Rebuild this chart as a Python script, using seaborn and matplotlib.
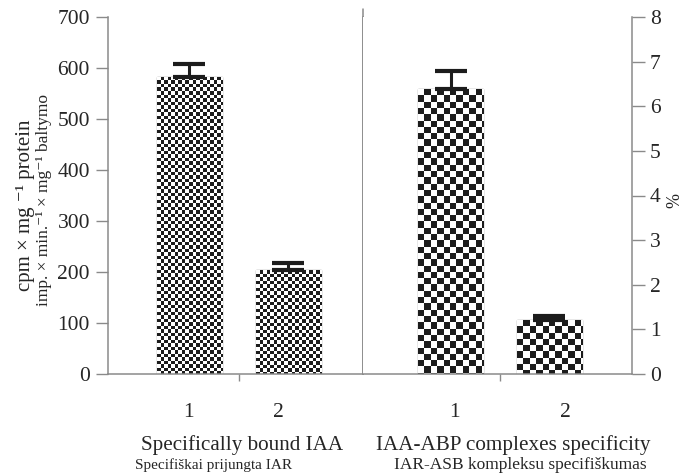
import numpy as np
import matplotlib
matplotlib.use('Agg')
import matplotlib.pyplot as plt
from matplotlib.colors import ListedColormap
import seaborn as sns

sns.set_style('ticks')
plt.rcParams['font.family'] = ['Liberation Serif', 'DejaVu Serif']

# data
bar_labels = ['1', '2']
bound_vals = [582, 203]        # cpm x mg-1 protein
bound_err = [25, 14]
specif_vals = [6.38, 1.21]     # %
specif_err = [0.40, 0.08]

GREY = '#8a8a8a'


def checker_fill(ax, bar, cell_px, dark='#1c1c1c'):
    """ Fill a bar patch with a black/white checkerboard clipped to it. """
    x0, y0 = bar.get_x(), bar.get_y()
    w, h = bar.get_width(), bar.get_height()
    p0 = ax.transData.transform((x0, y0))
    p1 = ax.transData.transform((x0 + w, y0 + h))
    wpx, hpx = p1 - p0
    nx = int(np.ceil(wpx / cell_px))
    ny = int(np.ceil(hpx / cell_px))
    board = np.add.outer(np.arange(ny), np.arange(nx)) % 2
    ext_w = nx * cell_px / wpx * w
    ext_h = ny * cell_px / hpx * h
    im = ax.imshow(board, cmap=ListedColormap(['white', dark]),
                   extent=(x0, x0 + ext_w, y0 + h - ext_h, y0 + h),
                   origin='upper', interpolation='nearest', aspect='auto',
                   zorder=2)
    im.set_clip_path(bar)


def draw_panel(ax, vals, errs, ylim, xlim, label_x, cell_px):
    sns.barplot(x=bar_labels, y=vals, ax=ax, width=0.66, color='white',
                edgecolor=GREY, linewidth=1.0, zorder=1)
    ax.set_xlim(*xlim)
    ax.set_ylim(*ylim)
    for bar in ax.patches:
        checker_fill(ax, bar, cell_px)
    ax.errorbar(range(len(vals)), np.array(vals) + np.array(errs) / 2,
                yerr=np.array(errs) / 2, fmt='none', ecolor='#1c1c1c',
                elinewidth=2.2, capsize=11.5, capthick=3, zorder=3)
    ax.set_xlim(*xlim)
    ax.set_ylim(*ylim)
    ax.set_xticks(label_x)
    ax.set_xticklabels(bar_labels, fontsize=15.5)
    ax.set_xticks([0.5], minor=True)
    ax.tick_params(axis='x', which='major', length=0, pad=21)
    ax.tick_params(axis='x', which='minor', length=5, color=GREY, width=1)
    ax.tick_params(axis='y', length=9, color=GREY, width=1, labelsize=15.5,
                   pad=4)
    ax.set_xlabel('')
    ax.set_ylabel('')
    for s in ax.spines.values():
        s.set_color(GREY)
        s.set_linewidth(1.1)
    ax.spines['top'].set_visible(False)


fig = plt.figure(figsize=(6.85, 4.75), dpi=100)
ax1 = fig.add_axes([108 / 685, 101 / 475, 255 / 685, 357 / 475])
ax2 = fig.add_axes([363 / 685, 101 / 475, 269 / 685, 357 / 475])

draw_panel(ax1, bound_vals, bound_err, (0, 700), (-0.827, 1.761),
           [-0.01, 0.9], 3.5)
ax1.set_yticks(range(0, 701, 100))

draw_panel(ax2, specif_vals, specif_err, (0, 8), (-0.893, 1.838),
           [0.04, 1.16], 6.3)
ax2.set_yticks(range(0, 9))
ax2.yaxis.tick_right()
ax2.spines['left'].set_visible(False)
ax2.spines['right'].set_visible(True)

# divider between the two panels
ax1.spines['right'].set_visible(True)
ax1.axvline(ax1.get_xlim()[1], ymin=0, ymax=1.023, color=GREY, lw=1.1,
            clip_on=False)

# axis titles
fig.text(26 / 685, 1 - 205 / 475, 'cpm × mg ⁻¹ protein',
         rotation=90, ha='center', va='center', fontsize=15)
fig.text(44 / 685, 1 - 200 / 475, 'imp. × min.⁻¹ × mg⁻¹ baltymo',
         rotation=90, ha='center', va='center', fontsize=12.5)
fig.text(675 / 685, 1 - 200 / 475, '%', rotation=90, ha='center',
         va='center', fontsize=13)

# group captions
fig.text(242 / 685, 1 - 445 / 475, 'Specifically bound IAA', ha='center',
         va='center', fontsize=15.2)
fig.text(214 / 685, 1 - 465 / 475, 'Specifiškai prijungta IAR', ha='center',
         va='center', fontsize=11)
fig.text(513 / 685, 1 - 445 / 475, 'IAA-ABP complexes specificity',
         ha='center', va='center', fontsize=15.2)
fig.text(520 / 685, 1 - 465 / 475, 'IAR-ASB kompleksu specifiškumas',
         ha='center', va='center', fontsize=12.5)

fig.savefig('out.png', dpi=100)
